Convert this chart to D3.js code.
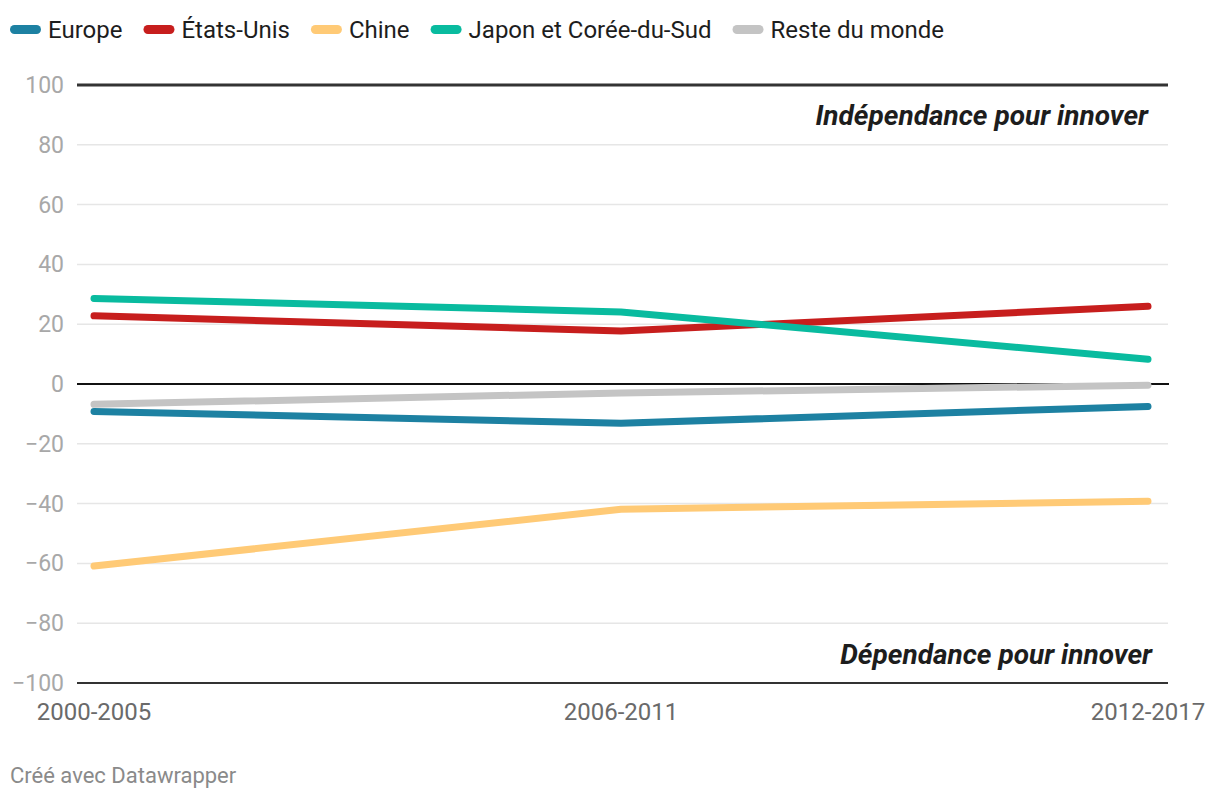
<!DOCTYPE html>
<html><head><meta charset="utf-8">
<script src="https://cdn.jsdelivr.net/npm/d3@7"></script>
<style>body{margin:0;background:#fff;font-family:Roboto,"Noto Sans",sans-serif;}</style>
</head><body><svg id="c" width="1220" height="800"></svg>
<script>
const periods = ["2000-2005","2006-2011","2012-2017"];
const seriesNames = ["Europe","États-Unis","Chine","Japon et Corée-du-Sud","Reste du monde"];
const seriesColors = ["#1d81a2","#c71e1d","#ffca76","#09bb9f","#c4c4c4"];
const europe = [-9.2,-13.1,-7.5];
const etatsUnis = [22.8,17.7,26.0];
const chine = [-60.9,-41.9,-39.2];
const japonCoree = [28.6,24.1,8.3];
const resteMonde = [-6.8,-3.0,-0.4];
const yTicks = [-100,-80,-60,-40,-20,0,20,40,60,80,100];
const annotations = ["Indépendance pour innover","Dépendance pour innover"];

const data = [europe,etatsUnis,chine,japonCoree,resteMonde];
const drawOrder = [4,2,0,1,3];

const svg = d3.select("#c");
const x = d3.scalePoint().domain(periods).range([94,1148]);
const y = d3.scaleLinear().domain([-100,100]).range([683,85]);
const gridL = 77, gridR = 1168;

const g = svg.append("g");
g.selectAll("line.grid").data(yTicks.filter(t=>t!==0 && t!==100 && t!==-100)).join("line")
  .attr("x1",gridL).attr("x2",gridR).attr("y1",d=>y(d)).attr("y2",d=>y(d))
  .attr("stroke","#e6e6e6").attr("stroke-width",1.5);
g.selectAll("text.yl").data(yTicks).join("text")
  .attr("x",64).attr("y",d=>y(d)).attr("dy","0.35em").attr("text-anchor","end")
  .attr("font-size",23).attr("fill","#a8a8a8")
  .text(d=>d<0?"\u2212"+Math.abs(d):d);
svg.append("line").attr("x1",gridL).attr("x2",gridR).attr("y1",y(100)).attr("y2",y(100)).attr("stroke","#333").attr("stroke-width",3);
svg.append("line").attr("x1",gridL).attr("x2",gridR).attr("y1",y(-100)).attr("y2",y(-100)).attr("stroke","#333").attr("stroke-width",2);

svg.append("text").attr("x",1148).attr("y",125).attr("text-anchor","end")
  .attr("font-size",28).attr("font-weight","bold").attr("font-style","italic").attr("fill","#1d1d1d")
  .text(annotations[0]);
svg.append("text").attr("x",1152).attr("y",664).attr("text-anchor","end")
  .attr("font-size",28).attr("font-weight","bold").attr("font-style","italic").attr("fill","#1d1d1d")
  .text(annotations[1]);

svg.selectAll("text.xl").data(periods).join("text")
  .attr("x",d=>x(d)).attr("y",720).attr("text-anchor","middle")
  .attr("font-size",24).attr("fill","#6a6a6a").text(d=>d);

const line = d3.line().x((d,i)=>x(periods[i])).y(d=>y(d));
svg.append("line").attr("x1",gridL).attr("x2",gridR+1).attr("y1",y(0)).attr("y2",y(0)).attr("stroke","#111").attr("stroke-width",2);
drawOrder.forEach(i=>{
  svg.append("path").datum(data[i]).attr("d",line).attr("fill","none")
    .attr("stroke",seriesColors[i]).attr("stroke-width",7)
    .attr("stroke-linecap","round").attr("stroke-linejoin","round");
});

const lg = svg.append("g");
let lx = 10;
seriesNames.forEach((n,i)=>{
  lg.append("rect").attr("x",lx).attr("y",25).attr("width",31).attr("height",9).attr("rx",4.5)
    .attr("fill",seriesColors[i]);
  const t = lg.append("text").attr("x",lx+38).attr("y",30).attr("dy","0.35em")
    .attr("font-size",24).attr("fill","#1d1d1d").text(n);
  lx += 38 + t.node().getComputedTextLength() + 21;
});

svg.append("text").attr("x",10).attr("y",783).attr("font-size",22).attr("fill","#8a8a8a").text("Créé avec Datawrapper");
</script></body></html>
